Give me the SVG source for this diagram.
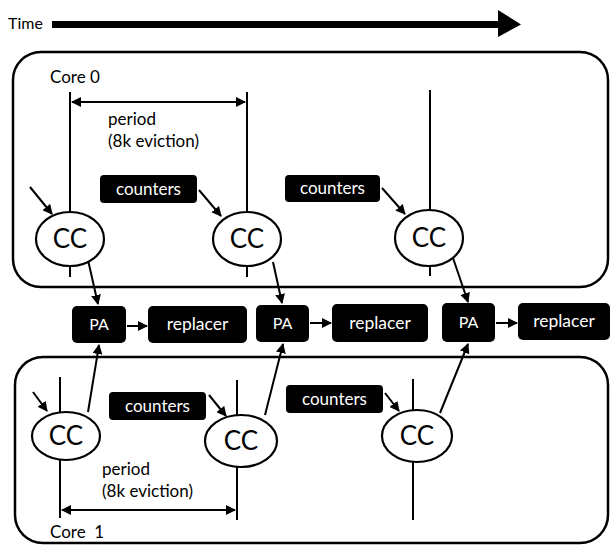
<svg xmlns="http://www.w3.org/2000/svg" width="610" height="545" viewBox="0 0 610 545">
<defs>
<marker id="ah" viewBox="0 0 10 10" refX="9" refY="5" markerWidth="5" markerHeight="5" orient="auto-start-reverse" markerUnits="strokeWidth">
<path d="M0,0 L10,5 L0,10 z" fill="#000"/>
</marker>
</defs>
<style>
text{font-family:Lato,"Liberation Sans",sans-serif;fill:#000}
.core{fill:none;stroke:#000;stroke-width:2.5}
.box{fill:#000}
.wt{fill:#fff;font-size:17px;text-anchor:middle}
.cc{fill:#fff;stroke:#000;stroke-width:2.2}
.cct{font-size:26px;text-anchor:middle}
.ln{stroke:#000;stroke-width:2;fill:none}
.ar{stroke:#000;stroke-width:2;fill:none;marker-end:url(#ah)}
.dar{stroke:#000;stroke-width:2;fill:none;marker-end:url(#ah);marker-start:url(#ah)}
.lbl{font-size:17px}
</style>
<rect width="610" height="545" fill="#fff"/>

<g id="time">
<text x="8" y="29" style="font-size:16px">Time</text>
<rect x="52" y="21" width="450" height="7" fill="#000"/>
<path d="M498,10 L521,24.5 L498,37 z" fill="#000"/>
</g>

<g id="core0">
<rect x="13" y="52" width="595" height="235" rx="28" class="core"/>
<text x="50" y="83" class="lbl">Core 0</text>
<text x="108" y="125" class="lbl">period</text>
<text x="108" y="147" class="lbl">(8k eviction)</text>
</g>

<g id="core1">
<rect x="15" y="357" width="593" height="186" rx="28" class="core"/>
<text x="50" y="538" class="lbl" style="white-space:pre">Core  1</text>
<text x="102" y="475" class="lbl">period</text>
<text x="102" y="497" class="lbl">(8k eviction)</text>
</g>

<g id="connectors">
<line x1="70" y1="92" x2="70" y2="277" class="ln"/>
<line x1="247" y1="92" x2="247" y2="277" class="ln"/>
<line x1="430" y1="90" x2="430" y2="276" class="ln"/>
<line x1="72" y1="102" x2="245" y2="102" class="dar"/>
<line x1="60" y1="377" x2="60" y2="518" class="ln"/>
<line x1="237" y1="380" x2="237" y2="520" class="ln"/>
<line x1="413" y1="379" x2="413" y2="520" class="ln"/>
<line x1="62" y1="510" x2="235" y2="510" class="dar"/>
<line x1="30" y1="187" x2="52" y2="214" class="ar"/>
<line x1="199" y1="190" x2="221" y2="216" class="ar"/>
<line x1="382" y1="188" x2="405" y2="214" class="ar"/>
<line x1="33" y1="392" x2="47" y2="411" class="ar"/>
<line x1="209" y1="395" x2="226" y2="416" class="ar"/>
<line x1="385" y1="393" x2="399" y2="411" class="ar"/>
<line x1="88" y1="260" x2="98" y2="304" class="ar"/>
<line x1="273" y1="262" x2="282" y2="303" class="ar"/>
<line x1="453" y1="258" x2="468" y2="302" class="ar"/>
<line x1="88" y1="412" x2="99" y2="345" class="ar"/>
<line x1="265" y1="415" x2="283" y2="344" class="ar"/>
<line x1="440" y1="413" x2="468" y2="344" class="ar"/>
<line x1="127" y1="326" x2="147" y2="326" class="ar"/>
<line x1="310" y1="323" x2="331" y2="323" class="ar"/>
<line x1="496" y1="323" x2="517" y2="323" class="ar"/>
</g>

<g id="counters-t1"><rect x="100" y="175" width="97" height="28" rx="4" class="box"/><text x="148.5" y="195" class="wt">counters</text></g>
<g id="counters-t2"><rect x="285" y="175" width="95" height="27" rx="4" class="box"/><text x="332.5" y="194" class="wt">counters</text></g>
<g id="counters-b1"><rect x="109" y="392" width="97" height="28" rx="4" class="box"/><text x="157.5" y="412" class="wt">counters</text></g>
<g id="counters-b2"><rect x="286" y="385" width="97" height="28" rx="4" class="box"/><text x="334.5" y="405" class="wt">counters</text></g>

<g id="cc-t1"><ellipse cx="70" cy="239" rx="34" ry="27" class="cc"/><text x="70" y="248" class="cct">CC</text></g>
<g id="cc-t2"><ellipse cx="247" cy="239" rx="34" ry="27" class="cc"/><text x="247" y="248" class="cct">CC</text></g>
<g id="cc-t3"><ellipse cx="429" cy="238" rx="34" ry="28" class="cc"/><text x="429" y="247" class="cct">CC</text></g>
<g id="cc-b1"><ellipse cx="66" cy="436" rx="34" ry="24" class="cc"/><text x="66" y="445" class="cct">CC</text></g>
<g id="cc-b2"><ellipse cx="241" cy="441" rx="36" ry="26" class="cc"/><text x="241" y="450" class="cct">CC</text></g>
<g id="cc-b3"><ellipse cx="417" cy="436" rx="35" ry="26" class="cc"/><text x="417" y="445" class="cct">CC</text></g>

<g id="pa1"><rect x="72" y="306" width="54" height="37" rx="5" class="box"/><text x="99" y="330" class="wt" style="font-size:16px">PA</text></g>
<g id="rep1"><rect x="148" y="306" width="99" height="37" rx="5" class="box"/><text x="197.5" y="330" class="wt" style="font-size:17.5px">replacer</text></g>
<g id="pa2"><rect x="256" y="305" width="53" height="37" rx="5" class="box"/><text x="282.5" y="329" class="wt" style="font-size:16px">PA</text></g>
<g id="rep2"><rect x="332" y="304" width="96" height="38" rx="5" class="box"/><text x="380" y="329" class="wt" style="font-size:17.5px">replacer</text></g>
<g id="pa3"><rect x="442" y="303" width="53" height="39" rx="5" class="box"/><text x="468.5" y="328" class="wt" style="font-size:16px">PA</text></g>
<g id="rep3"><rect x="518" y="303" width="92" height="37" rx="5" class="box"/><text x="564" y="327" class="wt" style="font-size:17.5px">replacer</text></g>
</svg>
